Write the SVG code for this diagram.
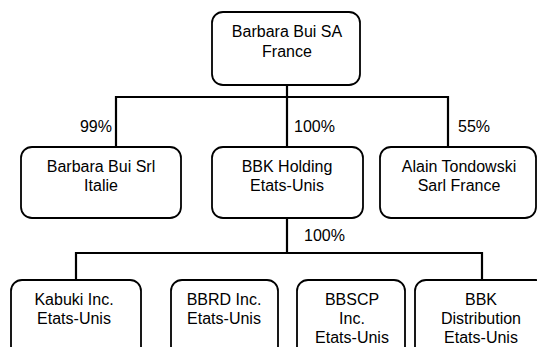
<svg xmlns="http://www.w3.org/2000/svg" width="537" height="347" viewBox="0 0 537 347">
<style>
.box{fill:#fff;stroke:#000;stroke-width:1.8}
.t{font-family:"Liberation Sans",Arial,sans-serif;font-size:16px;fill:#000;text-anchor:middle}
.l{font-family:"Liberation Sans",Arial,sans-serif;font-size:16px;fill:#000}
.c{fill:none;stroke:#000;stroke-width:2.2}
</style>
<rect width="537" height="347" fill="#fff"/>
<g id="connectors">
<path class="c" d="M287 85V97M116 147V97H448V147M287 97V147"/>
<path class="c" d="M287 218V253M76 280V253H482V280"/>
</g>
<g id="labels">
<text class="l" x="112" y="132" text-anchor="end">99%</text>
<text class="l" x="294" y="132">100%</text>
<text class="l" x="458" y="132">55%</text>
<text class="l" x="304" y="241">100%</text>
</g>
<g id="n-barbara-sa">
<rect class="box" x="212" y="12" width="148" height="73" rx="11"/>
<text class="t" x="287" y="37">Barbara Bui SA</text>
<text class="t" x="287" y="57">France</text>
</g>
<g id="n-barbara-srl">
<rect class="box" x="21" y="147" width="160" height="71" rx="11"/>
<text class="t" x="101" y="172">Barbara Bui Srl</text>
<text class="t" x="101" y="191">Italie</text>
</g>
<g id="n-bbk-holding">
<rect class="box" x="212" y="147" width="151" height="71" rx="11"/>
<text class="t" x="287" y="172">BBK Holding</text>
<text class="t" x="287" y="191">Etats-Unis</text>
</g>
<g id="n-alain">
<rect class="box" x="380" y="147" width="156" height="71" rx="11"/>
<text class="t" x="459" y="172">Alain Tondowski</text>
<text class="t" x="459" y="191">Sarl France</text>
</g>
<g id="n-kabuki">
<rect class="box" x="11" y="280" width="130" height="80" rx="11"/>
<text class="t" x="74" y="305">Kabuki Inc.</text>
<text class="t" x="74" y="324">Etats-Unis</text>
</g>
<g id="n-bbrd">
<rect class="box" x="171" y="280" width="107" height="80" rx="11"/>
<text class="t" x="224" y="305">BBRD Inc.</text>
<text class="t" x="224" y="324">Etats-Unis</text>
</g>
<g id="n-bbscp">
<rect class="box" x="297" y="280" width="108" height="80" rx="11"/>
<text class="t" x="352" y="305">BBSCP</text>
<text class="t" x="352" y="324">Inc.</text>
<text class="t" x="352" y="343">Etats-Unis</text>
</g>
<g id="n-bbk-distribution">
<rect class="box" x="415" y="280" width="132" height="80" rx="11"/>
<text class="t" x="481" y="305">BBK</text>
<text class="t" x="481" y="324">Distribution</text>
<text class="t" x="481" y="343">Etats-Unis</text>
</g>
</svg>
